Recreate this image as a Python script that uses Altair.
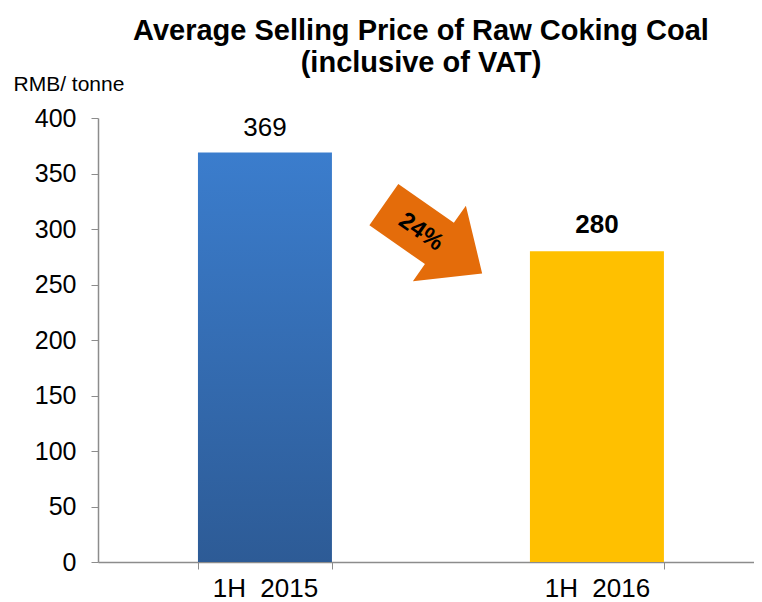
import altair as alt
import pandas as pd

periods = ["1H\u00a0 2015", "1H\u00a0 2016"]
prices = [369, 280]
change_label = ["24%"]
y_ticks = [0, 50, 100, 150, 200, 250, 300, 350, 400]

df = pd.DataFrame({"period": periods, "price": prices})
ann = pd.DataFrame({"label": change_label})

FONT = "Liberation Sans"

x = alt.X("period:N", sort=periods, title=None,
          scale=alt.Scale(paddingInner=0.5964, paddingOuter=0.2862, align=0.526),
          axis=alt.Axis(labelAngle=0, tickBand="extent", domainColor="#8c8c8c",
                        tickColor="#8c8c8c", labelFontSize=26, labelColor="black",
                        labelFont=FONT, labelPadding=6, tickSize=7, grid=False,
                        domainWidth=1.5))
y = alt.Y("price:Q", scale=alt.Scale(domain=[0, 400]),
          axis=alt.Axis(values=y_ticks, title="RMB/ tonne", titleAngle=0,
                        titleAlign="left", titleX=-85, titleY=-28,
                        titleBaseline="alphabetic", titleFontSize=21,
                        titleFontWeight="normal", titleFont=FONT, titleColor="black",
                        labelFontSize=25, labelFont=FONT, labelColor="black",
                        labelPadding=15, tickSize=7, domainColor="#8c8c8c",
                        tickColor="#8c8c8c", grid=False, domainWidth=1.5))

base = alt.Chart(df).encode(x=x, y=y)

blue = base.transform_filter(alt.datum.period == periods[0]).mark_bar(
    color=alt.LinearGradient(gradient="linear",
                             stops=[alt.GradientStop(color="#3B7DCD", offset=0),
                                    alt.GradientStop(color="#2D5B96", offset=1)],
                             x1=0, x2=0, y1=0, y2=1))
yellow = base.transform_filter(alt.datum.period == periods[1]).mark_bar(color="#FFC000")

lab1 = base.transform_filter(alt.datum.period == periods[0]).mark_text(
    baseline="bottom", dy=-11, fontSize=26, font=FONT, color="black").encode(text="price:Q")
lab2 = base.transform_filter(alt.datum.period == periods[1]).mark_text(
    baseline="bottom", dy=-13, fontSize=26, font=FONT, fontWeight="bold", color="black").encode(text="price:Q")

arrow_path = "M -1 -0.42 L 0.13 -0.42 L 0.13 -0.77 L 1 0 L 0.13 0.77 L 0.13 0.42 L -1 0.42 Z"
arrow = alt.Chart(ann).mark_point(shape=arrow_path, filled=True, color="#E46C0A",
                                  opacity=1, size=14400, angle=35, strokeWidth=0).encode(
    x=alt.value(335), y=alt.value(121))
arrow_text = alt.Chart(ann).mark_text(angle=35, fontSize=24, fontWeight="bold", font=FONT,
                                      color="black").encode(
    x=alt.value(323), y=alt.value(114), text="label:N")

chart = alt.layer(blue, yellow, lab1, lab2, arrow, arrow_text).properties(
    width=656, height=444,
    title=alt.TitleParams(["Average Selling Price of Raw Coking Coal", "(inclusive of VAT)"],
                          fontSize=29, font=FONT, fontWeight="bold", anchor="middle",
                          lineHeight=32, color="black", offset=-5, dx=-5),
    autosize=alt.AutoSizeParams(type="none"),
    padding={"left": 90, "top": 110, "right": 0, "bottom": 40},
    background="white",
).configure_view(stroke=None)

chart.save("out.html", embed_options={"renderer": "svg", "actions": False})
